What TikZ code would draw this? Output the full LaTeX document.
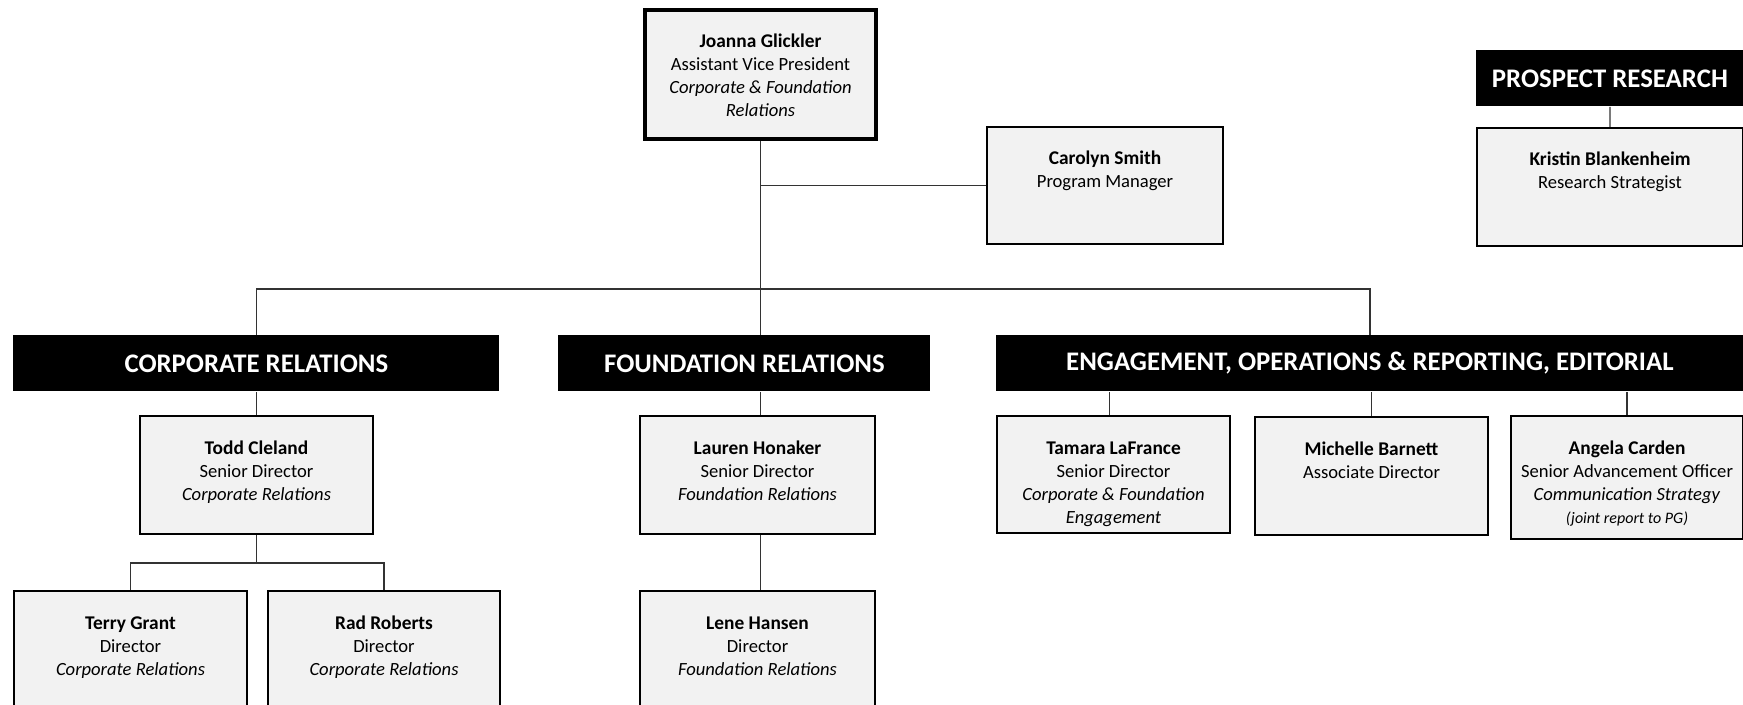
\documentclass[tikz,border=0pt]{standalone}
\usepackage{fontspec}
\setmainfont{Carlito}
\usetikzlibrary{positioning}

\newlength\unitpx
\setlength\unitpx{0.5pt}
\definecolor{cardfill}{HTML}{F2F2F2}

% card text: top aligned, first baseline 38px below the top edge
\newcommand{\cardbox}[3]{\parbox[t][#2\unitpx][t]{#1\unitpx}{\centering\fontsize{9.3}{11.5}\selectfont\rule{0pt}{19pt}#3}}
\newcommand{\who}[1]{{\fontsize{9.7}{11.5}\selectfont\bfseries #1}}

\tikzset{
  card/.style={draw=black, line width=1pt, fill=cardfill, inner sep=0pt, anchor=north west},
  header/.style={fill=black, text=white, inner sep=0pt, anchor=north west,
    font=\bfseries\fontsize{13.4}{15}\selectfont},
  link/.style={draw=black!80, line width=0.6pt}
}

\begin{document}
\begin{tikzpicture}[x=0.5pt, y=-0.5pt]
\useasboundingbox (0,0) rectangle (1743,705);
\clip (0,0) rectangle (1743,705);

% Top level
\node[card, line width=2pt] (avp) at (643,8)
  {\cardbox{231}{129}{\who{Joanna Glickler}\\Assistant Vice President\\\textit{Corporate \& Foundation}\\\textit{Relations}}};
\node[card] (pm) at (986,126)
  {\cardbox{236}{117}{\who{Carolyn Smith}\\Program Manager}};

% Prospect research
\node[header, minimum width=267\unitpx, minimum height=56\unitpx] (pr) at (1476,50) {PROSPECT RESEARCH};
\node[card] (rs) at (1476,127)
  {\cardbox{266}{118}{\who{Kristin Blankenheim}\\Research Strategist}};

% Department headers
\node[header, minimum width=486\unitpx, minimum height=56\unitpx] (corp) at (13,335) {CORPORATE RELATIONS};
\node[header, minimum width=372\unitpx, minimum height=56\unitpx] (found) at (558,335) {FOUNDATION RELATIONS};
\node[header, minimum width=747\unitpx, minimum height=56\unitpx] (eng) at (996,335) {ENGAGEMENT, OPERATIONS \& REPORTING, EDITORIAL};

% Corporate relations
\node[card] (todd) at (139,415)
  {\cardbox{233}{118}{\who{Todd Cleland}\\Senior Director\\\textit{Corporate Relations}}};
\node[card] (terry) at (13,590)
  {\cardbox{233}{130}{\who{Terry Grant}\\Director\\\textit{Corporate Relations}}};
\node[card] (rad) at (267,590)
  {\cardbox{232}{130}{\who{Rad Roberts}\\Director\\\textit{Corporate Relations}}};

% Foundation relations
\node[card] (lauren) at (639,415)
  {\cardbox{235}{118}{\who{Lauren Honaker}\\Senior Director\\\textit{Foundation Relations}}};
\node[card] (lene) at (639,590)
  {\cardbox{235}{130}{\who{Lene Hansen}\\Director\\\textit{Foundation Relations}}};

% Engagement, operations & reporting, editorial
\node[card] (tamara) at (996,415)
  {\cardbox{233}{117}{\who{Tamara LaFrance}\\Senior Director\\\textit{Corporate \& Foundation}\\\textit{Engagement}}};
\node[card] (michelle) at (1254,416)
  {\cardbox{233}{118}{\who{Michelle Barnett}\\Associate Director}};
\node[card] (angela) at (1510,415)
  {\cardbox{232}{123}{\who{Angela Carden}\\Senior Advancement Officer\\\textit{Communication Strategy}\\{\fontsize{8}{10}\selectfont\textit{(joint report to PG)}}}};

% Connectors
\coordinate (bus) at (0,289);
\coordinate (tbus) at (0,563);
\coordinate (tamtop) at ([xshift=-4\unitpx]tamara.north);
\draw[link] (avp.south) -- (avp.south |- found.north);
\draw[link] (pm.west) -- (pm.west -| avp.south);
\draw[link] (corp.north) -- (corp.north |- bus) -- (eng.north |- bus) -- (eng.north);
\draw[link] (pr.south) -- (rs.north);
\draw[link] (todd.north) -- (todd.north |- corp.south);
\draw[link] (todd.south) -- (todd.south |- tbus);
\draw[link] (terry.north) -- (terry.north |- tbus) -- (rad.north |- tbus) -- (rad.north);
\draw[link] (avp.south |- found.south) -- (avp.south |- lauren.north);
\draw[link] (avp.south |- lauren.south) -- (avp.south |- lene.north);
\draw[link] (tamtop) -- (tamtop |- eng.south);
\draw[link] (michelle.north) -- (michelle.north |- eng.south);
\draw[link] (angela.north) -- (angela.north |- eng.south);
\end{tikzpicture}
\end{document}
